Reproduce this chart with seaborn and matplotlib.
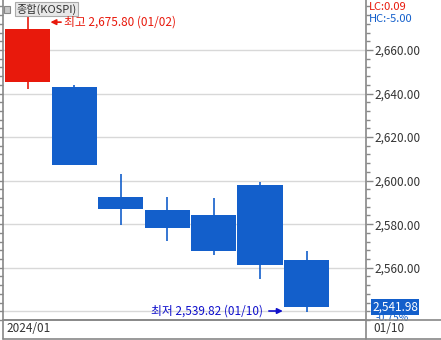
import matplotlib
matplotlib.use("Agg")
import matplotlib.pyplot as plt
import seaborn as sns
import pandas as pd
from matplotlib.ticker import MultipleLocator, FixedLocator, FuncFormatter
from matplotlib.patches import Rectangle

dates = ['01/02', '01/03', '01/04', '01/05', '01/08', '01/09', '01/10']
opens = [2645.5, 2643.2, 2592.3, 2586.7, 2584.0, 2598.2, 2563.7]
closes = [2669.81, 2607.31, 2587.02, 2578.08, 2567.82, 2561.24, 2541.98]
highs = [2675.80, 2644.0, 2602.9, 2592.3, 2591.8, 2599.2, 2567.8]
lows = [2642.0, 2607.0, 2579.4, 2572.1, 2565.7, 2555.0, 2539.82]
y_ticks = [2560, 2580, 2600, 2620, 2640, 2660]

df = pd.DataFrame({'date': dates, 'open': opens, 'close': closes,
                   'high': highs, 'low': lows})
df['idx'] = range(len(df))

sns.set_theme(style="white")
plt.rcParams['font.family'] = ['Noto Sans CJK KR', 'DejaVu Sans']

W, H = 441, 340
fig = plt.figure(figsize=(W / 100, H / 100), dpi=100)
ax = fig.add_axes([3 / W, 20 / H, 363 / W, 320 / H])

RED = '#E8190C'
BLUE = '#135FCB'

up = df['close'] >= df['open']
colors = [RED if u else BLUE for u in up]

# wicks
ax.vlines(df['idx'], df['low'], df['high'], colors=colors, linewidth=1.2, zorder=2)
# bodies
bottoms = df[['open', 'close']].min(axis=1)
heights = (df['close'] - df['open']).abs()
ax.bar(df['idx'], heights, bottom=bottoms, width=0.97, color=colors,
       edgecolor='none', zorder=3)

ax.set_xlim(-0.53, 7.28)
ax.set_ylim(2535.97, 2682.97)

# grid
for v in y_ticks + [2540]:
    ax.axhline(v, color='#d8d8d8', linewidth=1.0, zorder=0)

ax.yaxis.tick_right()
ax.yaxis.set_major_locator(FixedLocator(y_ticks))
ax.yaxis.set_minor_locator(MultipleLocator(4))
ax.yaxis.set_major_formatter(FuncFormatter(lambda v, p: f"{v:,.2f}"))
ax.tick_params(axis='y', which='major', direction='out', length=5, width=1,
               color='#888888', labelsize=8.5, labelcolor='#333333', pad=1,
               right=True, left=True)
ax.tick_params(axis='y', which='minor', direction='out', length=3, width=1,
               color='#888888', right=True, left=True)
ax.set_xticks([])
for s in ['left', 'right', 'bottom']:
    ax.spines[s].set_color('#888888')
    ax.spines[s].set_linewidth(1.2)
ax.spines['top'].set_visible(False)

# top-left label (inside axes, beneath annotation)
ax.add_patch(Rectangle((0.003, 1 - 13 / 320), 6 / 363, 7 / 320, transform=ax.transAxes,
                       facecolor='#c8c8c8', edgecolor='#888888', linewidth=0.8,
                       zorder=4, clip_on=False))
ax.text(13 / 363, 1 - 9 / 320, '종합(KOSPI)', fontsize=8, color='#333333',
        ha='left', va='center', transform=ax.transAxes, zorder=4,
        bbox=dict(boxstyle='square,pad=0.12', facecolor='#e8e8e8', edgecolor='#aaaaaa',
                  linewidth=0.8))

# annotations
ax.annotate('최고 2,675.80 (01/02)', xy=(0.49, 2672.8), xytext=(0.79, 2672.8),
            ha='left', va='center', fontsize=8.5, color=RED, zorder=6,
            arrowprops=dict(arrowstyle='-|>', color=RED, lw=1.2,
                            shrinkA=0, shrinkB=0, mutation_scale=8))
ax.annotate('최저 2,539.82 (01/10)', xy=(5.49, 2540.1), xytext=(5.06, 2540.1),
            ha='right', va='center', fontsize=8.5, color='#1010CC', zorder=6,
            arrowprops=dict(arrowstyle='-|>', color='#1010CC', lw=1.2,
                            shrinkA=2, shrinkB=0, mutation_scale=8))

# top-right LC / HC
fig.text(369 / W, 1 - 7 / H, 'LC:0.09', fontsize=8, color=RED, ha='left', va='center')
fig.text(369 / W, 1 - 19 / H, 'HC:-5.00', fontsize=8, color=BLUE, ha='left', va='center')

# current price box
fig.text(372 / W, 1 - 307 / H, f"{closes[-1]:,.2f}", fontsize=8.5, color='white',
         ha='left', va='center',
         bbox=dict(boxstyle='square,pad=0.12', facecolor=BLUE, edgecolor='none'))
fig.text(376 / W, 1 - 318 / H, '-0.75%', fontsize=7.5, color=BLUE, ha='left', va='center',
         zorder=1)

# bottom date area
fig.add_artist(plt.Line2D([3 / W, 1], [20 / H, 20 / H], color='#888888', lw=1.2,
                          transform=fig.transFigure, zorder=5))
fig.add_artist(plt.Line2D([3 / W, 1], [1 / H, 1 / H], color='#888888', lw=1.2,
                          transform=fig.transFigure, zorder=5))
fig.add_artist(plt.Line2D([3 / W, 3 / W], [1 / H, 20 / H], color='#888888', lw=1.2,
                          transform=fig.transFigure))
fig.add_artist(plt.Line2D([366 / W, 366 / W], [1 / H, 20 / H], color='#888888', lw=1.2,
                          transform=fig.transFigure))
fig.text(6 / W, 1 - 329 / H, '2024/01', fontsize=8.5, color='#333333', ha='left', va='center')
fig.text(373 / W, 1 - 329 / H, dates[-1], fontsize=8.5, color='#333333', ha='left', va='center')

fig.savefig('out.png', dpi=100)
